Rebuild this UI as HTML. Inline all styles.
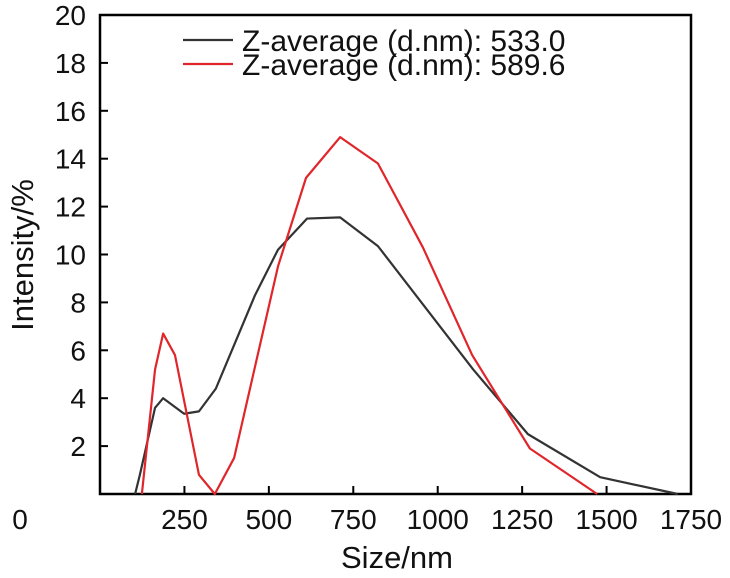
<!DOCTYPE html>
<html><head><meta charset="utf-8"><style>
body{margin:0;background:#fff}
svg{display:block;font-family:"Liberation Sans",Arial,sans-serif}
</style></head><body>
<svg id="chart" width="730" height="578">
<rect x="100" y="15" width="591" height="479" fill="none" stroke="#000" stroke-width="2.5"/>
<g id="axes"></g>
<g id="series"></g>
<text x="397" y="568" text-anchor="middle" font-size="31" fill="#111">Size/nm</text>
<text transform="translate(33,255) rotate(-90)" text-anchor="middle" font-size="31" fill="#111">Intensity/%</text>
<g>
<line x1="183" y1="40" x2="233" y2="40" stroke="#333" stroke-width="2.2"/>
<text x="242" y="51" font-size="30" fill="#111">Z-average (d.nm): 533.0</text>
<line x1="183" y1="64" x2="233" y2="64" stroke="#e0262b" stroke-width="2.2"/>
<text x="242" y="75" font-size="30" fill="#111">Z-average (d.nm): 589.6</text>
</g>
</svg>
<script>
const xTicks=[250,500,750,1000,1250,1500,1750];
const yTicks=[2,4,6,8,10,12,14,16,18,20];
const blackX=[104,118,163,187,249,293,343,459,527,613,711,823,1105,1267,1481,1711];
const blackY=[0,0.8,3.6,4.0,3.35,3.45,4.4,8.3,10.2,11.5,11.55,10.35,5.2,2.5,0.7,0];
const redX=[124,163,187,222,293,340,397,527,610,711,823,956,1102,1273,1472];
const redY=[0,5.2,6.7,5.8,0.8,0,1.5,9.5,13.2,14.9,13.8,10.3,5.8,1.9,0];
const NS="http://www.w3.org/2000/svg";
const sx=v=>100+v*591/1750, sy=v=>494-v*479/20;
const axes=document.getElementById('axes'), ser=document.getElementById('series');
function mk(tag,at,par){const e=document.createElementNS(NS,tag);for(const k in at)e.setAttribute(k,at[k]);par.appendChild(e);return e;}
xTicks.forEach(t=>{
 const l=mk('line',{x1:sx(t),x2:sx(t),y1:494,y2:486,stroke:'#000','stroke-width':2},axes);
 
 
 const tx=mk('text',{x:sx(t),y:529,'text-anchor':'middle','font-size':28,fill:'#111'},axes);tx.textContent=t;
 
 
});
yTicks.forEach(t=>{
 const l=mk('line',{x1:100,x2:108,y1:sy(t),y2:sy(t),stroke:'#000','stroke-width':2},axes);
 
 
 const tx=mk('text',{x:86,y:sy(t)+10,'text-anchor':'end','font-size':28,fill:'#111'},axes);tx.textContent=t;
 
 
});
const z=mk('text',{x:20,y:529,'text-anchor':'middle','font-size':28,fill:'#111'},axes);z.textContent='0';


function line(xs,ys,col,name){
 const p=mk('polyline',{points:xs.map((x,i)=>sx(x)+','+sy(ys[i])).join(' '),fill:'none',stroke:col,'stroke-width':2.2,'stroke-linejoin':'round'},ser);
 
 
}
line(blackX,blackY,'#333','series-533');
line(redX,redY,'#e0262b','series-589');
</script>
</body></html>
